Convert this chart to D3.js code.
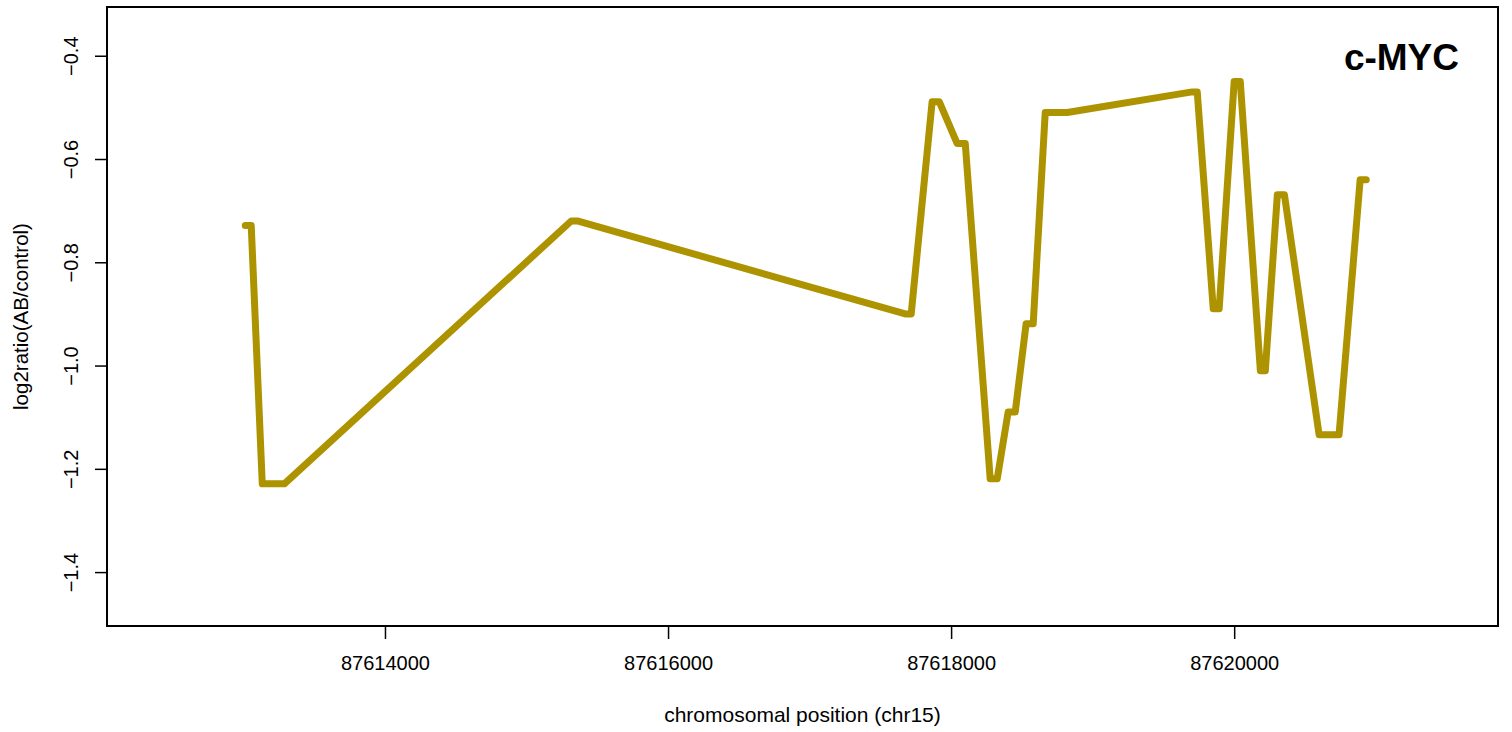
<!DOCTYPE html>
<html>
<head>
<meta charset="utf-8">
<script src="https://cdn.jsdelivr.net/npm/d3@7"></script>
<style>
  html, body { margin: 0; padding: 0; background: #ffffff; }
  svg { display: block; }
  text { font-family: "Liberation Sans", Arial, Helvetica, sans-serif; fill: #000; }
</style>
</head>
<body>
<svg id="chart" width="1512" height="732"></svg>
<script>
// ---- data (probe start / end positions on chr15, log2 ratio) ----
const probeStart = [87613013, 87613133, 87615316, 87617676, 87617866, 87618043, 87618276, 87618403, 87618530, 87618665, 87619703, 87619852, 87620000, 87620185, 87620305, 87620600, 87620890];
const probeEnd   = [87613055, 87613289, 87615359, 87617718, 87617916, 87618100, 87618326, 87618453, 87618580, 87618820, 87619739, 87619894, 87620043, 87620220, 87620355, 87620741, 87620933];
const log2ratio  = [-0.729, -1.229, -0.720, -0.900, -0.489, -0.570, -1.219, -1.090, -0.919, -0.510, -0.470, -0.890, -0.450, -1.010, -0.669, -1.134, -0.640];

const xTicks = [87614000, 87616000, 87618000, 87620000];
const yTicks = [-0.4, -0.6, -0.8, -1.0, -1.2, -1.4];
const xLim = [87612400, 87621500];
const yLim = [-1.46, -0.35];

const geneLabel = "c-MYC";
const xTitle = "chromosomal position (chr15)";
const yTitle = "log2ratio(AB/control)";
const lineColor = "#ad9300";

// ---- layout ----
const box = { left: 107, right: 1498, top: 7, bottom: 626 };
const pad = (lim) => { const r = lim[1] - lim[0]; return [lim[0] - 0.04 * r, lim[1] + 0.04 * r]; };

const x = d3.scaleLinear().domain(pad(xLim)).range([box.left, box.right]);
const y = d3.scaleLinear().domain(pad(yLim)).range([box.bottom, box.top]);

const svg = d3.select("#chart");

// points: each probe gives a short flat segment from start to end
const pts = [];
probeStart.forEach((s, i) => {
  pts.push([s, log2ratio[i]]);
  pts.push([probeEnd[i], log2ratio[i]]);
});

const line = d3.line().x(d => x(d[0])).y(d => y(d[1]));

svg.append("path")
  .datum(pts)
  .attr("d", line)
  .attr("fill", "none")
  .attr("stroke", lineColor)
  .attr("stroke-width", 7)
  .attr("stroke-linejoin", "round")
  .attr("stroke-linecap", "round");

// plot box
svg.append("rect")
  .attr("x", box.left).attr("y", box.top)
  .attr("width", box.right - box.left).attr("height", box.bottom - box.top)
  .attr("fill", "none").attr("stroke", "#000").attr("stroke-width", 2);

// x axis
const xAxis = d3.axisBottom(x).tickValues(xTicks).tickSize(13).tickPadding(16).tickFormat(d3.format("d"));
const gx = svg.append("g").attr("transform", `translate(0,${box.bottom})`).call(xAxis);
gx.select(".domain").remove();
gx.selectAll(".tick line").attr("stroke", "#000").attr("stroke-width", 1.5);
gx.selectAll(".tick text")
  .attr("font-size", 20)
  .attr("font-family", "Liberation Sans, Arial, sans-serif")
  .attr("fill", "#000")
  .attr("dy", null)
  .attr("y", 44);

// y axis
const yAxis = d3.axisLeft(y).tickValues(yTicks).tickSize(12).tickFormat(d => d3.format(".1f")(d).replace("-", "\u2212"));
const gy = svg.append("g").attr("transform", `translate(${box.left},0)`).call(yAxis);
gy.select(".domain").remove();
gy.selectAll(".tick line").attr("stroke", "#000").attr("stroke-width", 1.5);
gy.selectAll(".tick text")
  .attr("font-size", 20)
  .attr("font-family", "Liberation Sans, Arial, sans-serif")
  .attr("fill", "#000")
  .attr("x", null).attr("dy", null)
  .attr("text-anchor", "middle")
  .attr("transform", "translate(-29,0) rotate(-90)");

// axis titles
svg.append("text")
  .attr("x", (box.left + box.right) / 2)
  .attr("y", 722)
  .attr("text-anchor", "middle")
  .attr("font-size", 21)
  .text(xTitle);

svg.append("text")
  .attr("transform", `translate(28,${(box.top + box.bottom) / 2}) rotate(-90)`)
  .attr("text-anchor", "middle")
  .attr("font-size", 20.5)
  .text(yTitle);

// gene label
svg.append("text")
  .attr("x", 1459)
  .attr("y", 70)
  .attr("text-anchor", "end")
  .attr("font-size", 37)
  .attr("font-weight", "bold")
  .text(geneLabel);
</script>
</body>
</html>
